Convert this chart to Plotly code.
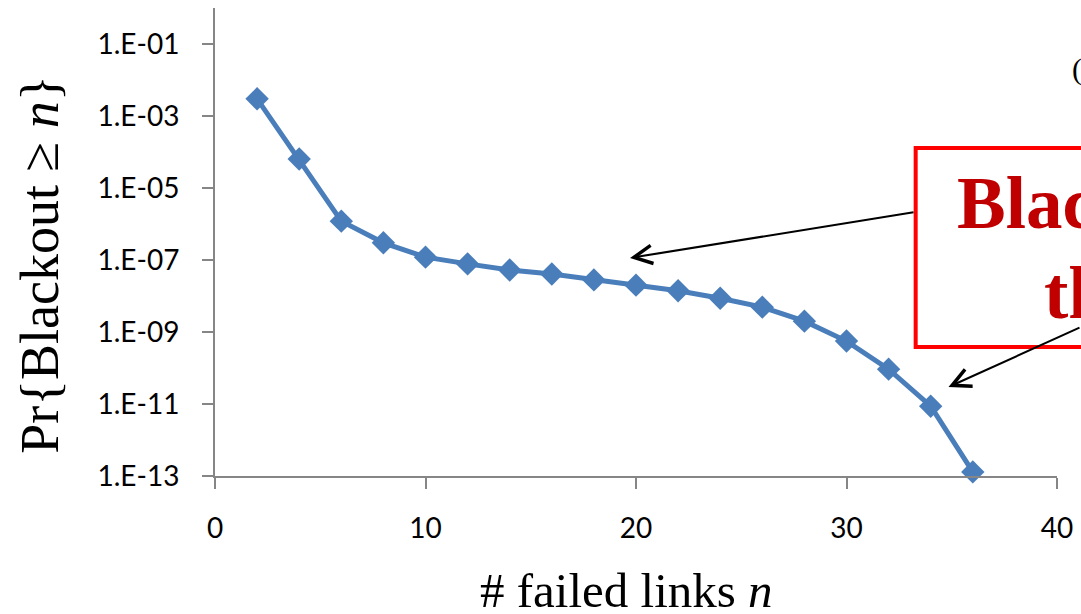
import plotly.graph_objects as go

# ---- data ----
failed_links = [2, 4, 6, 8, 10, 12, 14, 16, 18, 20, 22, 24, 26, 28, 30, 32, 34, 36]
pr_blackout = [3.0e-3, 6.4e-5, 1.2e-6, 3.0e-7, 1.2e-7, 7.8e-8, 5.3e-8, 4.1e-8, 2.8e-8,
               2.0e-8, 1.4e-8, 8.7e-9, 4.9e-9, 2.0e-9, 5.6e-10, 9.3e-11, 8.7e-12, 1.3e-13]
y_tick_vals = [1e-13, 1e-11, 1e-9, 1e-7, 1e-5, 1e-3, 1e-1]
y_tick_text = ["1.E-13", "1.E-11", "1.E-09", "1.E-07", "1.E-05", "1.E-03", "1.E-01"]
x_tick_vals = [0, 10, 20, 30, 40]

W, H = 1081, 614
# plot area in page pixels: x 215..1061, y 8..476
L, T = 215, 8
R = W - 1061
B = H - 476
PW, PH = W - L - R, H - T - B


def px(x):  # page pixel -> paper
    return (x - L) / PW


def py(y):
    return (H - B - y) / PH


BLUE = "#4A7EBB"
AXIS = "#868686"
SERIF = "Liberation Serif, Times New Roman, serif"
SANS = "Lato, Carlito, Calibri, sans-serif"

fig = go.Figure()
fig.add_trace(go.Scatter(
    x=failed_links, y=pr_blackout, mode="lines+markers",
    line=dict(color=BLUE, width=5),
    marker=dict(symbol="diamond", size=18, color=BLUE),
    cliponaxis=False, showlegend=False,
))

fig.update_layout(
    width=W, height=H,
    margin=dict(l=L, r=R, t=T, b=B, pad=0),
    paper_bgcolor="white", plot_bgcolor="white",
    xaxis=dict(range=[0, 40], tickvals=x_tick_vals, showgrid=False, zeroline=False,
               showline=True, linecolor=AXIS, linewidth=2,
               ticks="outside", ticklen=11, tickwidth=2, tickcolor=AXIS,
               tickfont=dict(family=SANS, size=28, color="black"), ticklabelstandoff=15),
    yaxis=dict(type="log", range=[-13, 0], tickvals=y_tick_vals, ticktext=y_tick_text,
               showgrid=False, zeroline=False,
               showline=True, linecolor=AXIS, linewidth=2,
               ticks="outside", ticklen=11, tickwidth=2, tickcolor=AXIS,
               tickfont=dict(family=SANS, size=28, color="black"), ticklabelstandoff=17),
)

annotations = [
    dict(text="# failed links <i>n</i>", xref="paper", yref="paper", x=px(628), y=py(590),
         xanchor="center", yanchor="middle", showarrow=False,
         font=dict(family=SERIF, size=49, color="black")),
    dict(text="Pr{Blackout ≥ <i>n</i>}", xref="paper", yref="paper", x=px(39), y=py(265),
         xanchor="center", yanchor="middle", textangle=-90, showarrow=False,
         font=dict(family=SERIF, size=54, color="black")),
    dict(text="Blackout", xref="paper", yref="paper", x=px(959), y=py(161),
         xanchor="left", yanchor="top", showarrow=False,
         font=dict(family=SERIF, size=73, color="#C00000", weight="bold")),
    dict(text="the", xref="paper", yref="paper", x=px(1046), y=py(251),
         xanchor="left", yanchor="top", showarrow=False,
         font=dict(family=SERIF, size=73, color="#C00000", weight="bold")),
    dict(text="(a)", xref="paper", yref="paper", x=px(1074), y=py(69),
         xanchor="left", yanchor="middle", showarrow=False,
         font=dict(family=SERIF, size=30, color="black")),
    dict(text="", xref="paper", yref="paper", x=px(632), y=py(258),
         ax=917 - 632, ay=212 - 258, showarrow=True, arrowhead=5, arrowsize=1.8,
         arrowwidth=2, arrowcolor="black"),
    dict(text="", xref="paper", yref="paper", x=px(952), y=py(387),
         ax=158, ay=-60, showarrow=True, arrowhead=5, arrowsize=1.8,
         arrowwidth=2, arrowcolor="black"),
]
fig.update_layout(annotations=annotations)

fig.add_shape(type="rect", xref="paper", yref="paper",
              x0=px(919), x1=px(1250), y0=py(347), y1=py(148),
              line=dict(color="#FF0000", width=4), fillcolor="rgba(0,0,0,0)", layer="above")

# remove the default page margin so the figure fills the window exactly
page_css = ("document.body.style.margin='0';"
            "document.documentElement.style.overflow='hidden';"
            "document.body.style.overflow='hidden';")
fig.write_html("out.html", post_script=page_css, config={"displayModeBar": False})
